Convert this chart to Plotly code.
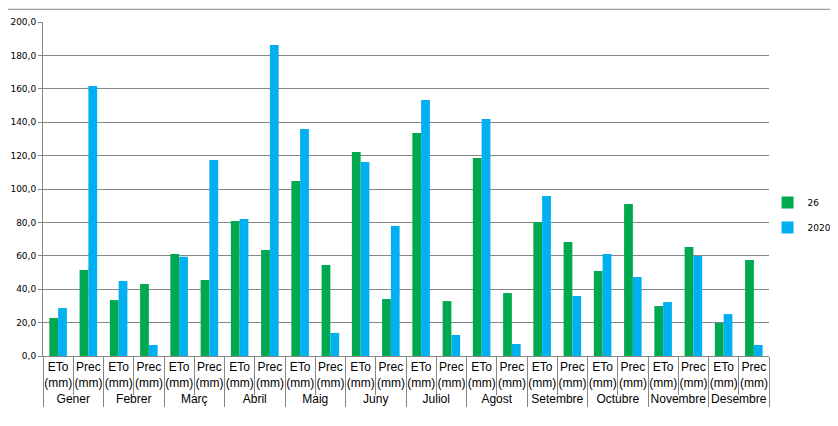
import plotly.graph_objects as go

months = ["Gener", "Febrer", "Març", "Abril", "Maig", "Juny", "Juliol",
          "Agost", "Setembre", "Octubre", "Novembre", "Desembre"]
subcats = ["ETo", "Prec"]
unit = "(mm)"

# series "26": ETo, Prec per month
s26_eto = [22.8, 33.5, 61.1, 80.8, 104.8, 122.2, 133.5, 118.6, 80.2, 50.9, 29.9, 19.8]
s26_prec = [51.5, 43.1, 45.5, 63.5, 54.5, 34.1, 32.9, 37.7, 68.3, 91.0, 65.3, 57.5]
# series "2020"
s2020_eto = [28.7, 44.9, 59.5, 82.0, 135.9, 116.2, 153.3, 141.9, 95.8, 61.1, 32.3, 25.1]
s2020_prec = [161.7, 6.6, 117.4, 186.2, 13.8, 77.8, 12.6, 7.2, 35.9, 47.3, 59.9, 6.6]

inner_labels = [f"{s}<br>{unit}" for s in subcats]

x_outer = []
x_inner = []
y26 = []
y2020 = []
for i, m in enumerate(months):
    x_outer += [m, m]
    x_inner += inner_labels
    y26 += [s26_eto[i], s26_prec[i]]
    y2020 += [s2020_eto[i], s2020_prec[i]]

fig = go.Figure()
fig.add_trace(go.Bar(x=[x_outer, x_inner], y=y26, name="26",
                     marker=dict(color="#00A94F", line=dict(width=0)),
                     legendgroup="a"))
fig.add_trace(go.Bar(x=[x_outer, x_inner], y=y2020, name="2020",
                     marker=dict(color="#00B0F0", line=dict(width=0)),
                     legendgroup="b"))

fig.update_layout(
    width=822, height=410,
    margin=dict(l=35, r=61, t=14, b=62, autoexpand=False),
    paper_bgcolor="white", plot_bgcolor="white",
    separators=", ",
    barmode="group", bargap=0.42, bargroupgap=0,
    font=dict(family="DejaVu Sans", size=10, color="#000000"),
    showlegend=True,
    legend=dict(x=0.998, y=0.422, xanchor="left", yanchor="middle",
                font=dict(size=9), tracegroupgap=6, itemwidth=30,
                bgcolor="rgba(0,0,0,0)"),
    xaxis=dict(type="multicategory", showline=True, linecolor="#868686",
               linewidth=1, ticks="outside", tickson="boundaries",
               ticklen=38, tickcolor="#868686", tickangle=0,
               automargin=False,
               dividercolor="#868686", dividerwidth=1,
               tickfont=dict(family="Liberation Sans", size=12),
               showgrid=False),
    yaxis=dict(range=[0, 200], dtick=20, tickformat=".1f",
               showgrid=True, gridcolor="#868686", gridwidth=1,
               showline=True, linecolor="#868686", ticks="outside",
               ticklen=4, tickcolor="#868686", tickfont=dict(size=9),
               zeroline=False, automargin=False),
)
fig.add_shape(type="line", xref="paper", yref="paper", x0=-0.05, x1=1.1,
              y0=1.038, y1=1.038, line=dict(color="#868686", width=1))
fig.write_html("out.html")
